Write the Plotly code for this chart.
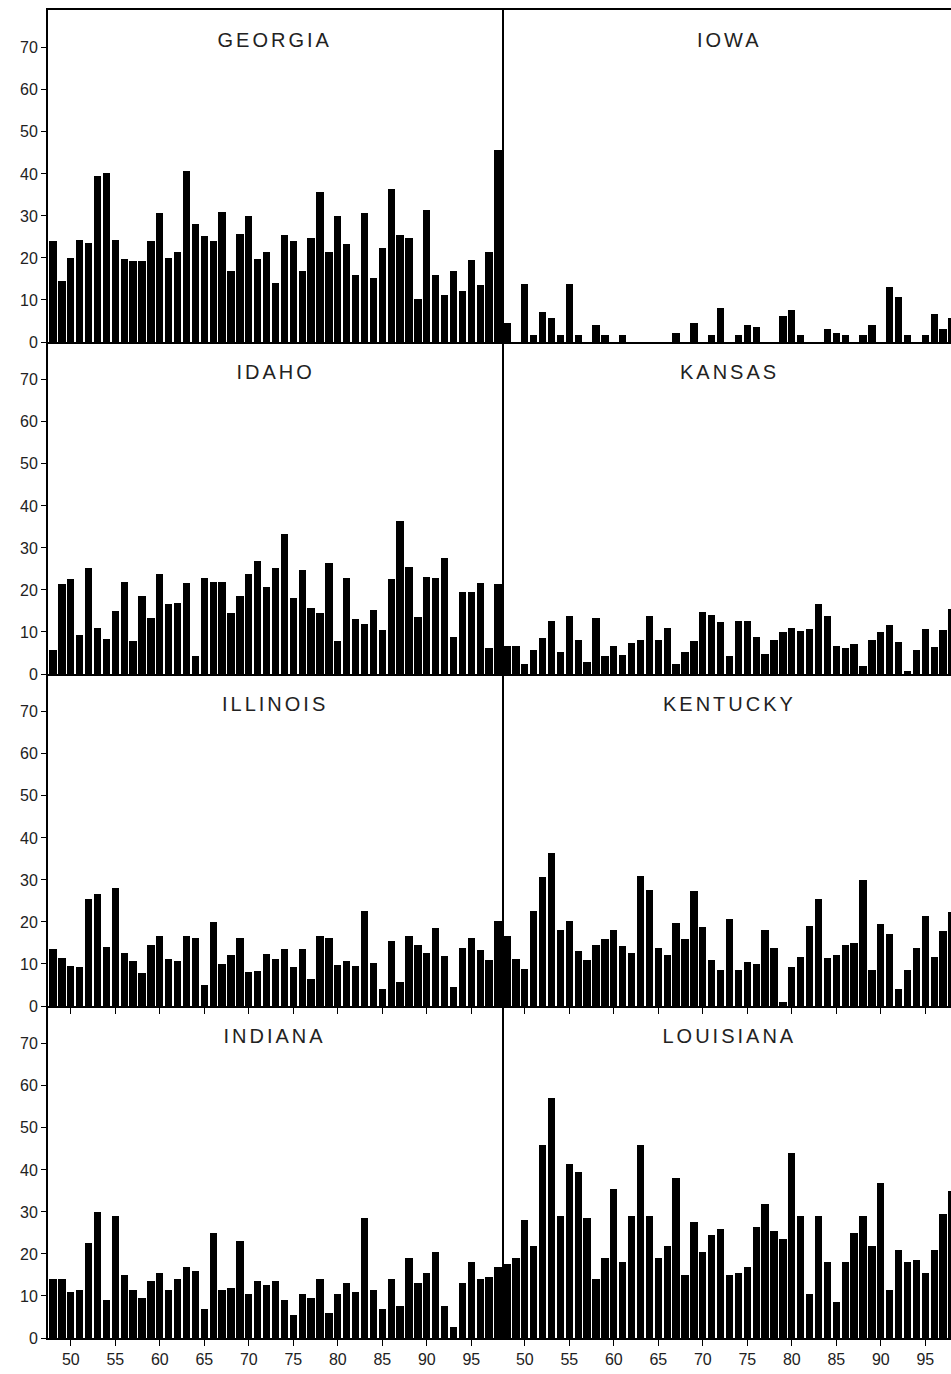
import plotly.graph_objects as go
from plotly.subplots import make_subplots

years = list(range(48, 99))
x_tick_vals = [50, 55, 60, 65, 70, 75, 80, 85, 90, 95]
x_tick_text = ["50", "55", "60", "65", "70", "75", "80", "85", "90", "95"]
y_tick_vals = [0, 10, 20, 30, 40, 50, 60, 70]

georgia = [24, 14.5, 20, 24.3, 23.5, 39.5, 40.3, 24.3, 19.7, 19.3, 19.3, 24, 30.7, 20, 21.3,
           40.7, 28, 25.3, 24, 31, 17, 25.7, 30, 19.7, 21.4, 14, 25.4, 24.1, 17, 24.7,
           35.6, 21.4, 30, 23.4, 16, 30.7, 15.3, 22.4, 36.4, 25.4, 24.7, 10.2, 31.4, 16,
           11.3, 17, 12.2, 19.4, 13.6, 21.4, 45.8]
iowa = [4.6, 0, 13.7, 1.6, 7.1, 5.6, 1.6, 13.7, 1.6, 0, 4.1, 1.6, 0, 1.6, 0, 0, 0, 0, 0,
        2.1, 0, 4.6, 0, 1.6, 8.1, 0, 1.6, 4.1, 3.6, 0, 0, 6.2, 7.5, 1.6, 0, 0, 3.2, 2.1,
        1.6, 0, 1.6, 4.1, 0, 13.1, 10.6, 1.6, 0, 1.6, 6.7, 3.2, 5.6]
idaho = [5.6, 21.4, 22.6, 9.4, 25.2, 11.0, 8.3, 15.0, 21.8, 7.9, 18.6, 13.4, 23.9, 16.6,
         16.9, 21.6, 4.2, 22.8, 22, 22, 14.6, 18.6, 23.9, 26.9, 20.6, 25.3, 33.2, 18.2,
         24.8, 15.8, 14.4, 26.5, 7.9, 22.8, 13.0, 12.0, 15.3, 10.4, 22.5, 36.3, 25.5,
         13.6, 23.2, 22.8, 27.5, 8.7, 19.4, 19.6, 21.7, 6.2, 21.4]
kansas = [6.7, 6.7, 2.4, 5.6, 8.5, 12.5, 5.3, 13.8, 8.2, 2.9, 13.3, 4.2, 6.7, 4.5, 7.4,
          8.2, 13.7, 8.2, 10.9, 2.4, 5.3, 7.9, 14.8, 14.0, 12.3, 4.4, 12.5, 12.7, 8.9,
          4.8, 8.2, 10.1, 10.9, 10.3, 10.7, 16.7, 13.7, 6.7, 6.2, 7.1, 1.9, 8.1, 10.1,
          11.7, 7.5, 0.8, 5.6, 10.7, 6.5, 10.5, 15.5]
illinois = [13.5, 11.5, 9.6, 9.2, 25.4, 26.6, 14.1, 28.1, 12.6, 10.8, 7.9, 14.6, 16.6,
            11.1, 10.8, 16.6, 16.3, 5.1, 20, 9.9, 12.2, 16.1, 8, 8.3, 12.3, 11.2, 13.5,
            9.2, 13.5, 6.4, 16.7, 16.3, 9.8, 10.7, 9.5, 22.7, 10.3, 4.0, 15.5, 5.8, 16.6,
            14.6, 12.6, 18.6, 12, 4.6, 13.8, 16.3, 13.3, 11, 20.3]
kentucky = [16.6, 11.3, 8.9, 22.5, 30.6, 36.3, 18.0, 20.3, 13.2, 10.9, 14.6, 16.0, 18.0,
            14.3, 12.6, 31.0, 27.5, 13.7, 12.2, 19.8, 16.0, 27.3, 18.8, 11.0, 8.6, 20.8,
            8.5, 10.5, 10.1, 18.1, 13.8, 1.0, 9.4, 11.7, 19.1, 25.4, 11.4, 12.1, 14.4,
            15.1, 30.0, 8.5, 19.4, 17.1, 4.0, 8.5, 13.8, 21.4, 11.7, 17.8, 22.4]
indiana = [14, 14, 11, 11.5, 22.5, 30, 9, 29, 15, 11.5, 9.5, 13.5, 15.5, 11.5, 14, 17, 16,
           7, 25, 11.5, 12, 23, 10.5, 13.5, 12.5, 13.5, 9, 5.5, 10.5, 9.5, 14, 6, 10.5,
           13, 11, 28.5, 11.5, 7, 14, 7.5, 19, 13, 15.5, 20.5, 7.5, 2.5, 13, 18, 14, 14.5, 17]
louisiana = [17.5, 19, 28, 22, 46, 57, 29, 41.5, 39.5, 28.5, 14, 19, 35.5, 18, 29, 46, 29,
             19, 22, 38, 15, 27.5, 20.5, 24.5, 26, 15, 15.5, 17, 26.5, 32, 25.5, 23.5, 44,
             29, 10.5, 29, 18, 8.5, 18, 25, 29, 22, 37, 11.5, 21, 18, 18.5, 15.5, 21, 29.5, 35]

panels = [
    ("GEORGIA", georgia, 1, 1), ("IOWA", iowa, 1, 2),
    ("IDAHO", idaho, 2, 1), ("KANSAS", kansas, 2, 2),
    ("ILLINOIS", illinois, 3, 1), ("KENTUCKY", kentucky, 3, 2),
    ("INDIANA", indiana, 4, 1), ("LOUISIANA", louisiana, 4, 2),
]

W, H = 951, 1374
ML, MR, MT, MB = 48, 0, 10, 36
plot_w = W - ML - MR
split = 454 / plot_w

fig = make_subplots(rows=4, cols=2, horizontal_spacing=0, vertical_spacing=0)

FONT = "Liberation Sans, Arial, sans-serif"
px_per_year = 454 / 51.01
x0 = 47.44
left_range = [x0, x0 + 454 / px_per_year]
right_range = [x0, x0 + 449 / px_per_year]

for name, vals, r, c in panels:
    idx = (r - 1) * 2 + c
    fig.add_trace(go.Bar(x=years, y=vals, width=0.82,
                         marker=dict(color="black", line=dict(width=0)),
                         showlegend=False, hoverinfo="x+y"), row=r, col=c)
    xa = "xaxis" if idx == 1 else f"xaxis{idx}"
    ya = "yaxis" if idx == 1 else f"yaxis{idx}"
    ydom = [1 - r * 0.25, 1 - (r - 1) * 0.25]
    xdom = [0, split] if c == 1 else [split, 1]
    xticks = "outside" if r >= 3 else ""
    fig.layout[xa].update(domain=xdom, range=left_range if c == 1 else right_range,
                          showline=True, linecolor="black", linewidth=2,
                          mirror=(r == 1),
                          ticks=xticks, ticklen=6, tickwidth=1, tickcolor="black",
                          tickvals=x_tick_vals, ticktext=x_tick_text,
                          showticklabels=(r == 4), showgrid=False, zeroline=False,
                          tickfont=dict(family=FONT, size=16, color="#222"))
    fig.layout[ya].update(domain=ydom, range=[0, 79],
                          showline=(c == 1), linecolor="black", linewidth=2,
                          mirror=(c == 1),
                          ticks="outside" if c == 1 else "", ticklen=5, tickwidth=1,
                          tickcolor="black", tickvals=y_tick_vals,
                          showticklabels=(c == 1), showgrid=False, zeroline=False,
                          tickfont=dict(family=FONT, size=16, color="#222"))
    fig.add_annotation(text=name, xref=f"x{idx} domain" if idx > 1 else "x domain",
                       yref=f"y{idx} domain" if idx > 1 else "y domain",
                       x=0.5 if c == 1 else 227 / 449, y=1 - 30 / 332,
                       showarrow=False, xanchor="center", yanchor="middle",
                       font=dict(family=FONT, size=20, color="#222"))

fig.update_layout(width=W, height=H, margin=dict(l=ML, r=MR, t=MT, b=MB),
                  paper_bgcolor="white", plot_bgcolor="white", bargap=0)

post = ("document.body.style.margin='0';document.body.style.overflow='hidden';"
        "var gd=document.getElementById('{plot_id}');"
        "gd.querySelectorAll('.annotation-text').forEach(function(e){e.style.letterSpacing='3px';});")

fig.write_html("out.html", post_script=post, config={"displayModeBar": False})
